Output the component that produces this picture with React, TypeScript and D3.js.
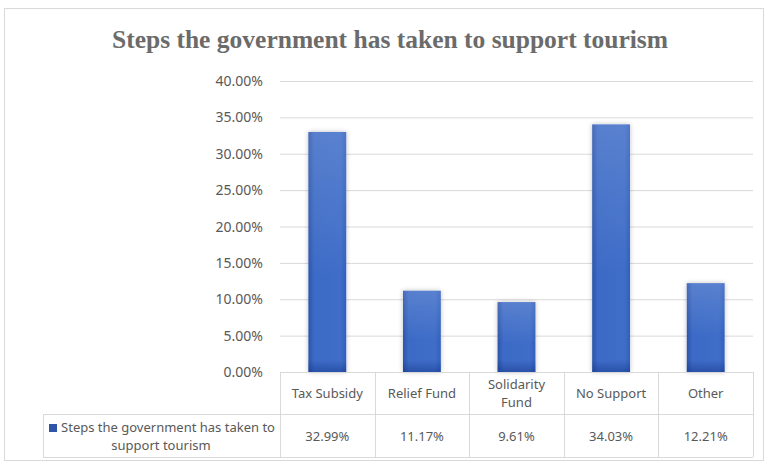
import React from "react";
import * as d3 from "d3";

const categories: string[][] = [["Tax Subsidy"], ["Relief Fund"], ["Solidarity", "Fund"], ["No Support"], ["Other"]];
const values: number[] = [32.99, 11.17, 9.61, 34.03, 12.21];
const valueLabels: string[] = ["32.99%", "11.17%", "9.61%", "34.03%", "12.21%"];
const yTicks: number[] = [0, 5, 10, 15, 20, 25, 30, 35, 40];
const seriesName: string[] = ["Steps the government has taken to", "support tourism"];
const title = "Steps the government has taken to support tourism";

const W = 764, H = 462;
const plotL = 280, plotR = 753, plotT = 81, plotB = 372;
const tableMid = 414, tableBot = 457, legendL = 43;

export default function App() {
  const x = d3.scaleBand<number>().domain(d3.range(categories.length)).range([plotL, plotR]).paddingInner(0.6).paddingOuter(0.3);
  const band = d3.scaleBand<number>().domain(d3.range(categories.length)).range([plotL, plotR]);
  const y = d3.scaleLinear().domain([0, 40]).range([plotB, plotT]);
  const font = "'Noto Sans', 'Open Sans', sans-serif";
  const grid = "#d9d9d9";
  const txt = "#595959";
  return (
    <svg width={W} height={H} style={{ position: "absolute", left: 0, top: 0 }}>
      <defs>
        <linearGradient id="gh" x1="0" x2="1" y1="0" y2="0">
          <stop offset="0" stopColor="#2c54aa" />
          <stop offset="0.15" stopColor="#3d6bc6" />
          <stop offset="0.85" stopColor="#3f6dc8" />
          <stop offset="1" stopColor="#3160bb" />
        </linearGradient>
        <linearGradient id="gv" x1="0" x2="0" y1="0" y2="1">
          <stop offset="0" stopColor="#ffffff" stopOpacity="0.14" />
          <stop offset="0.6" stopColor="#ffffff" stopOpacity="0" />
        </linearGradient>
        <linearGradient id="gb" x1="0" x2="0" y1="0" y2="1">
          <stop offset="0" stopColor="#0a2a7a" stopOpacity="0" />
          <stop offset="1" stopColor="#0a2a7a" stopOpacity="0.4" />
        </linearGradient>
        <filter id="sh" x="-30%" y="-10%" width="160%" height="120%">
          <feGaussianBlur in="SourceAlpha" stdDeviation="2.5" />
          <feComponentTransfer><feFuncA type="linear" slope="0.25" /></feComponentTransfer>
          <feMerge><feMergeNode /><feMergeNode in="SourceGraphic" /></feMerge>
        </filter>
      </defs>
      <rect x={0} y={0} width={W} height={H} fill="#fff" />
      <rect x={4.5} y={8.5} width={W - 5} height={H - 10} fill="#fff" stroke="#d9d9d9" />
      <text x={390} y={48} textAnchor="middle" fontFamily="'Liberation Serif', 'Times New Roman', serif" fontWeight="bold" fontSize={25.5} fill="#6b6b6b">{title}</text>
      {yTicks.map((t) => (
        <g key={t}>
          {t > 0 && <line x1={plotL} x2={plotR} y1={y(t) + 0.5} y2={y(t) + 0.5} stroke={grid} strokeWidth={1} />}
          <text x={263} y={y(t) + 5} textAnchor="end" fontFamily={font} fontSize={14} fill={txt}>{t.toFixed(2) + "%"}</text>
        </g>
      ))}
      {values.map((v, i) => {
        const h = plotB - y(v);
        const bh = Math.min(12, h);
        return (
          <g key={i} filter="url(#sh)">
            <rect x={x(i)} y={y(v)} width={x.bandwidth()} height={h} fill="url(#gh)" />
            <rect x={x(i)} y={y(v)} width={x.bandwidth()} height={h} fill="url(#gv)" />
            <rect x={x(i)} y={plotB - bh} width={x.bandwidth()} height={bh} fill="url(#gb)" />
          </g>
        );
      })}
      {/* table */}
      <g stroke={grid} strokeWidth={1} fill="none">
        <line x1={plotL} x2={plotR} y1={plotB + 0.5} y2={plotB + 0.5} />
        <line x1={legendL} x2={plotR} y1={tableMid + 0.5} y2={tableMid + 0.5} />
        <line x1={legendL} x2={plotR} y1={tableBot + 0.5} y2={tableBot + 0.5} />
        <line x1={legendL + 0.5} x2={legendL + 0.5} y1={tableMid} y2={tableBot} />
        {d3.range(categories.length + 1).map((i) => {
          const xx = Math.round(plotL + i * band.bandwidth()) + 0.5;
          return <line key={i} x1={xx} x2={xx} y1={plotB} y2={tableBot} />;
        })}
      </g>
      {categories.map((c, i) => {
        const cx = (band(i) as number) + band.bandwidth() / 2;
        const cy = (plotB + tableMid) / 2;
        return (
          <text key={i} textAnchor="middle" fontFamily={font} fontSize={13} fill={txt}>
            {c.map((line, j) => (
              <tspan key={j} x={cx} y={cy + 5 + (j - (c.length - 1) / 2) * 18}>{line}</tspan>
            ))}
          </text>
        );
      })}
      {valueLabels.map((v, i) => (
        <text key={i} x={(band(i) as number) + band.bandwidth() / 2} y={(tableMid + tableBot) / 2 + 5} textAnchor="middle" fontFamily={font} fontSize={13} fill={txt}>{v}</text>
      ))}
      <rect x={49} y={424} width={8} height={8} fill="#2f55a8" />
      <text textAnchor="middle" fontFamily={font} fontSize={13} fill={txt}>
        <tspan x={168} y={432}>{seriesName[0]}</tspan>
        <tspan x={161} y={450}>{seriesName[1]}</tspan>
      </text>
    </svg>
  );
}
